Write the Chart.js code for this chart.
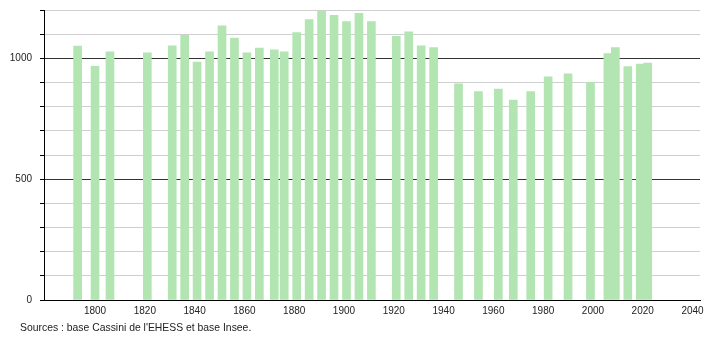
<!DOCTYPE html>
<html>
<head>
<meta charset="utf-8">
<script src="https://cdn.jsdelivr.net/npm/chart.js@4"></script>
<style>
  html, body { margin: 0; padding: 0; background: #fff; }
  #wrap { width: 710px; height: 340px; }
</style>
</head>
<body>
<div id="wrap"><canvas id="pop-chart"></canvas></div>
<script>
// Census years and population
const years = [1793, 1800, 1806, 1821, 1831, 1836, 1841, 1846, 1851, 1856,
    1861, 1866, 1872, 1876, 1881, 1886, 1891, 1896, 1901, 1906,
    1911, 1921, 1926, 1931, 1936, 1946, 1954, 1962, 1968, 1975,
    1982, 1990, 1999, 2006, 2009, 2014, 2019, 2022];
const population = [1051, 967, 1027, 1023, 1052, 1095, 984, 1027, 1134, 1084,
    1023, 1042, 1035, 1027, 1107, 1160, 1196, 1178, 1152, 1186,
    1152, 1091, 1110, 1052, 1044, 895, 862, 873, 827, 862,
    923, 936, 901, 1020, 1044, 966, 976, 980];

// Tick labels
const xTickYears = [1800, 1820, 1840, 1860, 1880, 1900, 1920, 1940, 1960, 1980, 2000, 2020, 2040];
const yTickValues = [0, 100, 200, 300, 400, 500, 600, 700, 800, 900, 1000, 1100, 1200];
const yLabelValues = [0, 500, 1000];

const sourceText = "Sources : base Cassini de l'EHESS et base Insee.";

Chart.defaults.font.family = "'Liberation Sans', Arial, sans-serif";
Chart.defaults.font.size = 10;
Chart.defaults.color = '#222';

// Draw the source line under the chart
const sourcePlugin = {
    id: 'sourceText',
    afterDraw(chart) {
        const ctx = chart.ctx;
        ctx.save();
        ctx.font = "10.4px 'Liberation Sans', Arial, sans-serif";
        ctx.fillStyle = '#222';
        ctx.textBaseline = 'middle';
        ctx.textAlign = 'left';
        ctx.fillText(sourceText, 20, 328);
        ctx.restore();
    }
};

const ctx = document.getElementById('pop-chart').getContext('2d');
const popChart = new Chart(ctx, {
    type: 'bar',
    data: {
        datasets: [{
            data: years.map((y, i) => ({ x: y, y: population[i] })),
            backgroundColor: '#b2e5b2',
            borderWidth: 0,
            barThickness: 8
        }]
    },
    options: {
        responsive: true,
        maintainAspectRatio: false,
        animation: false,
        layout: { padding: { top: 10, right: 10, left: 0, bottom: 0 } },
        plugins: {
            legend: { display: false },
            tooltip: { enabled: false }
        },
        scales: {
            x: {
                type: 'linear',
                min: 1779.5,
                max: 2043,
                offset: false,
                afterBuildTicks: scale => {
                    scale.ticks = xTickYears.map(v => ({ value: v }));
                },
                afterFit: scale => {
                    scale.height = 40;
                    scale.paddingLeft = 0;
                    scale.paddingRight = 0;
                },
                ticks: {
                    padding: 5,
                    maxRotation: 0,
                    autoSkip: false,
                    callback: v => String(v)
                },
                grid: { display: false, drawTicks: false, offset: false },
                border: { display: true, color: '#000', width: 1 }
            },
            y: {
                min: 0,
                max: 1200,
                afterBuildTicks: scale => {
                    scale.ticks = yTickValues.map(v => ({ value: v }));
                },
                afterFit: scale => {
                    scale.width = 44;
                    scale.paddingTop = 0;
                    scale.paddingBottom = 0;
                },
                ticks: {
                    padding: 8,
                    autoSkip: false,
                    callback: v => yLabelValues.includes(v) ? String(v) : ''
                },
                grid: {
                    color: c => (c.tick && c.tick.value % 500 === 0) ? '#333' : '#cfcfcf',
                    tickColor: '#000',
                    tickLength: 4,
                    lineWidth: 1
                },
                border: { display: true, color: '#000', width: 1 }
            }
        }
    },
    plugins: [sourcePlugin]
});
</script>
</body>
</html>
